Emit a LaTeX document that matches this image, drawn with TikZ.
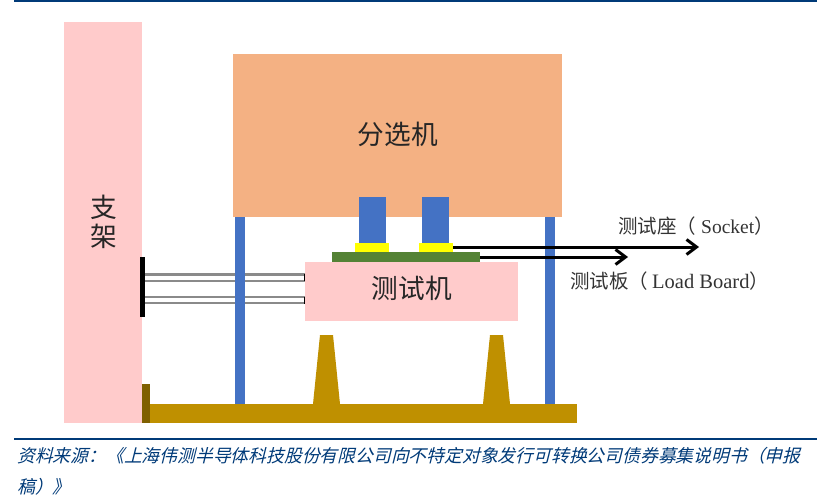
\documentclass[tikz,border=0pt]{standalone}
\usepackage{fontspec}
\setmainfont{Liberation Serif}
\newfontfamily\cjk{Noto Sans CJK SC}
\newfontfamily\cjkit[FakeSlant=0.25]{Noto Sans CJK SC}
\definecolor{navy}{HTML}{003A78}
\definecolor{pinkc}{HTML}{FFCBCB}
\definecolor{orangec}{HTML}{F4B183}
\definecolor{bluec}{HTML}{4472C4}
\definecolor{goldc}{HTML}{BF9000}
\definecolor{darkgold}{HTML}{7F6000}
\definecolor{greenc}{HTML}{548235}
\definecolor{yellowc}{HTML}{FFFF00}
\definecolor{greyc}{HTML}{8A8A8A}
\usetikzlibrary{arrows.meta}
\tikzset{
  blockbox/.style={rectangle,inner sep=0pt,outer sep=0pt,draw=none,fill=#1},
  railline/.style={draw=navy,line width=2.4pt},
  rodline/.style={draw=greyc,line width=2.2pt},
  callout/.style={draw=black,line width=3pt,-{Straight Barb[length=10pt,width=15pt,line width=3pt]}},
  maintext/.style={font=\cjk\fontsize{26.7}{26.7}\selectfont,text=black!85,inner sep=0pt},
  sidetext/.style={font=\fontsize{19.5}{19.5}\selectfont,text=black!80,inner sep=0pt,anchor=west},
  sourcetext/.style={font=\cjkit\fontsize{17.8}{17.8}\selectfont,text=navy,inner sep=0pt,anchor=west},
}
\begin{document}
\begin{tikzpicture}[x=1pt,y=-1pt]
\useasboundingbox (0,0) rectangle (837,501);
% rails
\coordinate (railTopL) at (14,1);
\coordinate (railTopR) at (817,1);
\coordinate (railBotL) at (14,439);
\coordinate (railBotR) at (817,439);
\draw[railline] (railTopL) -- (railTopR);
\draw[railline] (railBotL) -- (railBotR);
% frame
\node[blockbox=pinkc,minimum width=78pt,minimum height=401pt] (frame) at (103,222.5) {};
\node[font=\cjk\fontsize{26.7}{26.7}\selectfont,text=black!85,inner sep=0pt,align=center] (frametext) at (104,222) {支\\[3pt]架};
% base
\node[blockbox=goldc,minimum width=427pt,minimum height=19pt] (base) at (363.5,413.5) {};
\node[blockbox=darkgold,minimum width=8.5pt,minimum height=39pt] (foot) at (146,403.5) {};
% rods
\coordinate (r1a) at (145,274.5); \coordinate (r1b) at (305,274.5);
\coordinate (r2a) at (145,281); \coordinate (r2b) at (305,281);
\coordinate (r3a) at (145,297); \coordinate (r3b) at (305,297);
\coordinate (r4a) at (145,303); \coordinate (r4b) at (305,303);
\draw[rodline] (r1a) -- (r1b);
\draw[rodline] (r2a) -- (r2b);
\draw[rodline] (r3a) -- (r3b);
\draw[rodline] (r4a) -- (r4b);
% posts
\node[blockbox=bluec,minimum width=10pt,minimum height=187pt] (postL) at (240,310.5) {};
\node[blockbox=bluec,minimum width=10pt,minimum height=187pt] (postR) at (550,310.5) {};
\node[blockbox=black,minimum width=4.5pt,minimum height=60pt] (clamp) at (142.5,286.5) {};
\node[blockbox=black,minimum width=1.5pt,minimum height=7pt] (capA) at (304.5,277.5) {};
\node[blockbox=black,minimum width=1.5pt,minimum height=7pt] (capB) at (304.5,300) {};
% handler
\node[blockbox=orangec,minimum width=329.5pt,minimum height=163.5pt] (handler) at (397.25,135.25) {};
\node[maintext] (handlertext) at (398,134) {分选机};
% sockets
\node[blockbox=bluec,minimum width=27pt,minimum height=47pt] (pressA) at (372.5,220) {};
\node[blockbox=bluec,minimum width=27pt,minimum height=47pt] (pressB) at (435.5,220) {};
\node[blockbox=yellowc,minimum width=34pt,minimum height=10pt] (sockA) at (372,248) {};
\node[blockbox=yellowc,minimum width=34pt,minimum height=10pt] (sockB) at (436,248) {};
% tester
\node[blockbox=pinkc,minimum width=213pt,minimum height=59pt] (tester) at (411.5,291.5) {};
\node[maintext] (testertext) at (412,288.5) {测试机};
\node[blockbox=greenc,minimum width=148pt,minimum height=10pt] (board) at (406,257) {};
% legs
\fill[goldc] (313,404) -- (320,335) -- (333,335) -- (340,404) -- cycle;
\fill[goldc] (483,404) -- (490,335) -- (503,335) -- (510,404) -- cycle;
% callouts
\coordinate (socketEnd) at (699,247);
\coordinate (boardEnd) at (628,257);
\draw[callout] (sockB.east |- socketEnd) -- (socketEnd);
\draw[callout] (board.east) -- (boardEnd);
\node[sidetext] (socketLabel) at (618,226) {{\cjk 测试座（}\hspace{5pt}Socket{\cjk ）}};
\node[sidetext] (boardLabel) at (570,281) {{\cjk 测试板（}\hspace{4pt}{\fontsize{20.5}{20.5}\selectfont Load Board}{\cjk ）}};
% source
\node[sourcetext] (src1) at (17,456) {资料来源：《上海伟测半导体科技股份有限公司向不特定对象发行可转换公司债券募集说明书（申报};
\node[sourcetext] (src2) at (17,487) {稿）》};
\end{tikzpicture}
\end{document}
